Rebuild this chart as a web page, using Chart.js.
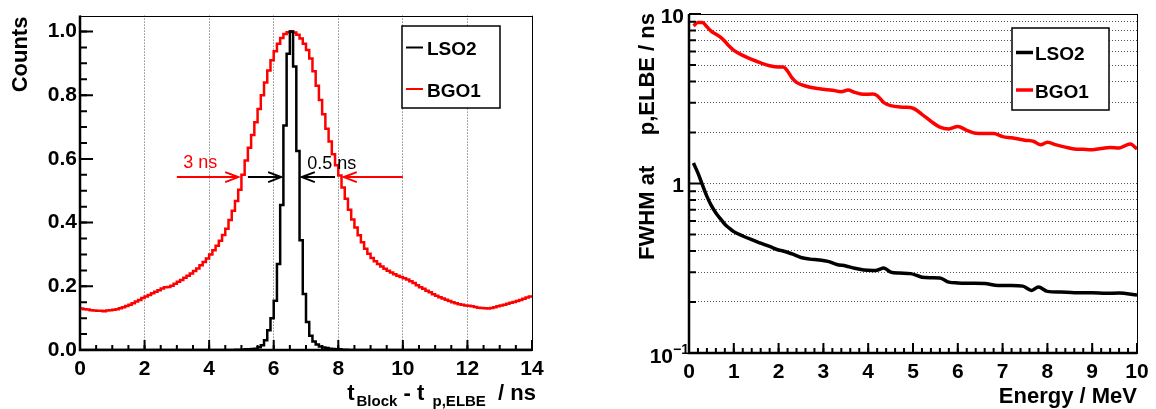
<!DOCTYPE html>
<html>
<head>
<meta charset="utf-8">
<script src="https://cdn.jsdelivr.net/npm/chart.js@4.4.1/dist/chart.umd.min.js"></script>
<style>
  html, body { margin: 0; padding: 0; background: #fff; }
  #wrap { position: relative; width: 1156px; height: 409px; }
  canvas { position: absolute; top: 0; }
  #timing { left: 0; }
  #fwhm { left: 578px; }
</style>
</head>
<body>
<div id="wrap">
  <canvas id="timing" width="578" height="409"></canvas>
  <canvas id="fwhm" width="578" height="409"></canvas>
</div>
<script>
// ---- left panel: timing histograms, 0.1 ns bins from 0 to 14 ns
const binWidth = 0.1;

const lsoCounts = [
  0, 0, 0, 0, 0, 0, 0, 0, 0, 0,
  0, 0, 0, 0, 0, 0, 0, 0, 0, 0,
  0, 0, 0, 0, 0, 0, 0, 0, 0, 0,
  0, 0, 0, 0, 0, 0, 0, 0, 0, 0,
  0, 0, 0, 0, 0, 0, 0, 0, 0.001, 0.001,
  0.001, 0.002, 0.002, 0.003, 0.004, 0.009, 0.015, 0.031, 0.062, 0.100,
  0.155, 0.270, 0.455, 0.705, 0.930, 1.000, 0.890, 0.625, 0.345, 0.176,
  0.088, 0.045, 0.027, 0.017, 0.011, 0.008, 0.006, 0.004, 0.003, 0.002,
  0.002, 0.001, 0.001, 0, 0, 0, 0, 0, 0, 0,
  0, 0, 0, 0, 0, 0, 0, 0, 0, 0,
  0, 0, 0, 0, 0, 0, 0, 0, 0, 0,
  0, 0, 0, 0, 0, 0, 0, 0, 0, 0,
  0, 0, 0, 0, 0, 0, 0, 0, 0, 0,
  0, 0, 0, 0, 0, 0, 0, 0, 0, 0
];

const bgoCounts = [
  0.130, 0.128, 0.127, 0.125, 0.124, 0.123, 0.123, 0.122, 0.124, 0.125,
  0.126, 0.128, 0.131, 0.134, 0.138, 0.142, 0.147, 0.152, 0.157, 0.163,
  0.168, 0.173, 0.178, 0.183, 0.188, 0.193, 0.197, 0.198, 0.202, 0.208,
  0.214, 0.220, 0.227, 0.233, 0.240, 0.248, 0.256, 0.266, 0.276, 0.287,
  0.300, 0.313, 0.327, 0.343, 0.361, 0.381, 0.408, 0.437, 0.468, 0.503,
  0.550, 0.595, 0.635, 0.675, 0.715, 0.757, 0.800, 0.840, 0.878, 0.910,
  0.938, 0.962, 0.980, 0.992, 0.998, 1.000, 0.997, 0.990, 0.978, 0.962,
  0.942, 0.915, 0.875, 0.830, 0.785, 0.740, 0.695, 0.655, 0.615, 0.580,
  0.548, 0.510, 0.475, 0.440, 0.410, 0.385, 0.360, 0.338, 0.318, 0.302,
  0.289, 0.279, 0.270, 0.262, 0.255, 0.249, 0.243, 0.238, 0.233, 0.229,
  0.225, 0.221, 0.216, 0.210, 0.203, 0.197, 0.192, 0.186, 0.181, 0.175,
  0.170, 0.166, 0.162, 0.158, 0.154, 0.150, 0.147, 0.144, 0.142, 0.140,
  0.139, 0.137, 0.135, 0.133, 0.132, 0.131, 0.130, 0.132, 0.134, 0.137,
  0.140, 0.142, 0.145, 0.148, 0.151, 0.154, 0.157, 0.161, 0.165, 0.168
];

const timeTicks = [0, 2, 4, 6, 8, 10, 12, 14];
const countTicks = [0, 0.2, 0.4, 0.6, 0.8, 1.0];

// FWHM markers drawn on the left panel (data units)
const fwhmArrows = [
  { from: [3.0, 0.543], to: [4.9, 0.543], color: "#ff0000" },
  { from: [5.2, 0.543], to: [6.23, 0.543], color: "#000000" },
  { from: [7.9, 0.543], to: [6.87, 0.543], color: "#000000" },
  { from: [10.0, 0.543], to: [8.17, 0.543], color: "#ff0000" }
];
const fwhmNotes = [
  { text: "3 ns", at: [3.2, 0.571], color: "#ff0000" },
  { text: "0.5 ns", at: [7.04, 0.568], color: "#000000" }
];

// ---- right panel: FWHM vs energy
const lsoEnergy = [0.1, 0.2, 0.3, 0.4, 0.5, 0.6, 0.7, 0.8, 0.9, 1.0, 1.2, 1.4, 1.6, 1.8, 2.0, 2.1, 2.3, 2.5, 2.7, 2.9,
  3.1, 3.3, 3.5, 3.7, 3.9, 4.1, 4.2, 4.35, 4.5, 4.7, 4.95, 5.2, 5.4, 5.6, 5.8, 6.0, 6.3, 6.6, 6.9, 7.2,
  7.45, 7.65, 7.8, 8.0, 8.3, 8.6, 9.0, 9.3, 9.6, 10.0];
const lsoFwhm = [1.32, 1.15, 0.98, 0.84, 0.74, 0.67, 0.62, 0.575, 0.545, 0.52, 0.49, 0.466, 0.445, 0.425, 0.405, 0.40, 0.384, 0.366, 0.358, 0.354,
  0.347, 0.333, 0.326, 0.316, 0.309, 0.307, 0.308, 0.317, 0.300, 0.296, 0.294, 0.280, 0.278, 0.277, 0.262, 0.259, 0.258, 0.257, 0.250, 0.250,
  0.248, 0.234, 0.245, 0.231, 0.229, 0.227, 0.227, 0.225, 0.226, 0.220];

const bgoEnergy = [0.1, 0.2, 0.3, 0.4, 0.5, 0.6, 0.7, 0.8, 0.9, 1.0, 1.2, 1.4, 1.6, 1.8, 2.0, 2.1, 2.2, 2.3, 2.4, 2.6,
  2.8, 3.0, 3.2, 3.4, 3.55, 3.7, 3.9, 4.1, 4.2, 4.35, 4.5, 4.8, 5.0, 5.2, 5.4, 5.6, 5.8, 6.0, 6.2, 6.4,
  6.6, 6.8, 7.0, 7.2, 7.5, 7.7, 7.85, 8.0, 8.2, 8.4, 8.6, 8.8, 9.0, 9.2, 9.4, 9.6, 9.75, 9.85, 10.0];
const bgoFwhm = [8.5, 8.9, 8.9, 8.4, 7.9, 7.6, 7.3, 6.9, 6.45, 6.1, 5.7, 5.4, 5.15, 4.95, 4.86, 4.86, 4.6, 4.2, 3.95, 3.76,
  3.66, 3.6, 3.55, 3.48, 3.56, 3.45, 3.36, 3.37, 3.3, 3.0, 2.88, 2.82, 2.78, 2.56, 2.33, 2.15, 2.1, 2.17, 2.06, 1.98,
  1.97, 1.97, 1.89, 1.86, 1.8, 1.77, 1.69, 1.75, 1.69, 1.64, 1.6, 1.59, 1.58, 1.61, 1.63, 1.62, 1.68, 1.71, 1.6];

const energyTicks = [0, 1, 2, 3, 4, 5, 6, 7, 8, 9, 10];
const fwhmGrid = [0.1, 0.2, 0.3, 0.4, 0.5, 0.6, 0.7, 0.8, 0.9, 1, 2, 3, 4, 5, 6, 7, 8, 9, 10];
const fwhmMajor = [0.1, 1, 10];

const FONT = "'Liberation Sans', Arial, Helvetica, sans-serif";
Chart.defaults.color = "#000";

// histogram bins -> points at left bin edges, plus closing point at the last edge
function toSteps(counts) {
  const pts = counts.map((c, i) => ({ x: i * binWidth, y: c }));
  pts.push({ x: counts.length * binWidth, y: counts[counts.length - 1] });
  return pts;
}

function frame(ctx, a) {
  ctx.save();
  ctx.strokeStyle = "#000";
  ctx.lineWidth = 1;
  ctx.strokeRect(Math.round(a.left) + 0.5, Math.round(a.top) + 0.5, Math.round(a.right - a.left), Math.round(a.bottom - a.top));
  ctx.lineWidth = 2.5;
  ctx.beginPath();
  ctx.moveTo(a.left, a.top);
  ctx.lineTo(a.left, a.bottom);
  ctx.lineTo(a.right, a.bottom);
  ctx.stroke();
  ctx.restore();
}

function tickMarks(ctx, scale, values, len, axis, a) {
  ctx.save();
  ctx.strokeStyle = "#000";
  ctx.lineWidth = 2;
  ctx.beginPath();
  values.forEach(v => {
    const p = scale.getPixelForValue(v);
    if (axis === "x") { ctx.moveTo(p, a.bottom); ctx.lineTo(p, a.bottom - len); }
    else { ctx.moveTo(a.left, p); ctx.lineTo(a.left + len, p); }
  });
  ctx.stroke();
  ctx.restore();
}

function legendBox(ctx, box, entries, lw) {
  ctx.save();
  ctx.fillStyle = "#fff";
  ctx.fillRect(box.x, box.y, box.w, box.h);
  ctx.strokeStyle = "#000";
  ctx.lineWidth = 1.5;
  ctx.strokeRect(box.x, box.y, box.w, box.h);
  ctx.font = "bold 19px " + FONT;
  ctx.textAlign = "left";
  ctx.textBaseline = "alphabetic";
  entries.forEach(e => {
    ctx.strokeStyle = e.color;
    ctx.lineWidth = lw;
    ctx.beginPath();
    ctx.moveTo(box.x + 4, e.y);
    ctx.lineTo(box.x + box.lineEnd, e.y);
    ctx.stroke();
    ctx.fillStyle = "#000";
    ctx.fillText(e.text, box.x + box.textX, e.y + 7.5);
  });
  ctx.restore();
}

function arrow(ctx, x1, y1, x2, y2, color) {
  const dir = Math.sign(x2 - x1);
  ctx.save();
  ctx.strokeStyle = color;
  ctx.lineWidth = 2;
  ctx.beginPath();
  ctx.moveTo(x1, y1);
  ctx.lineTo(x2, y2);
  ctx.moveTo(x2 - dir * 13, y2 - 5);
  ctx.lineTo(x2, y2);
  ctx.lineTo(x2 - dir * 13, y2 + 5);
  ctx.stroke();
  ctx.restore();
}

const timingDecor = {
  id: "timingDecor",
  afterDraw(chart) {
    const ctx = chart.ctx, a = chart.chartArea;
    const xs = chart.scales.x, ys = chart.scales.y;
    frame(ctx, a);

    const xMinor = [], yMinor = [];
    for (let t = 0; t <= 14.001; t += 0.5) xMinor.push(t);
    for (let c = 0; c <= 1.05; c += 0.05) yMinor.push(c);
    tickMarks(ctx, xs, xMinor, 5, "x", a);
    tickMarks(ctx, xs, timeTicks, 10, "x", a);
    tickMarks(ctx, ys, yMinor, 7, "y", a);
    tickMarks(ctx, ys, countTicks, 13, "y", a);

    fwhmArrows.forEach(ar => {
      arrow(ctx, xs.getPixelForValue(ar.from[0]), ys.getPixelForValue(ar.from[1]),
        xs.getPixelForValue(ar.to[0]), ys.getPixelForValue(ar.to[1]), ar.color);
    });
    ctx.save();
    ctx.font = "18px " + FONT;
    ctx.textAlign = "left";
    ctx.textBaseline = "alphabetic";
    fwhmNotes.forEach(n => {
      ctx.fillStyle = n.color;
      ctx.fillText(n.text, xs.getPixelForValue(n.at[0]), ys.getPixelForValue(n.at[1]));
    });
    ctx.restore();

    legendBox(ctx, { x: 402, y: 26, w: 98, h: 82, lineEnd: 21, textX: 25 }, [
      { text: "LSO2", color: "#000", y: 47.5 },
      { text: "BGO1", color: "#ff0000", y: 89 }
    ], 2);

    // axis titles
    ctx.save();
    ctx.fillStyle = "#000";
    ctx.font = "bold 22px " + FONT;
    ctx.textBaseline = "alphabetic";
    ctx.translate(27, a.top + 1);
    ctx.rotate(-Math.PI / 2);
    ctx.textAlign = "right";
    ctx.fillText("Counts", 0, 0);
    ctx.restore();

    const main = "bold 22px " + FONT, sub = "bold 15px " + FONT;
    const parts = [
      { t: "t", f: main, dy: 0 }, { t: "Block", f: sub, dy: 6 },
      { t: " - t", f: main, dy: 0 }, { t: "  p,ELBE", f: sub, dy: 6 },
      { t: "  / ns", f: main, dy: 0 }
    ];
    ctx.save();
    ctx.fillStyle = "#000";
    ctx.textAlign = "left";
    let total = 0;
    parts.forEach(p => { ctx.font = p.f; p.w = ctx.measureText(p.t).width; total += p.w; });
    let x = a.right + 2 - total;
    parts.forEach(p => { ctx.font = p.f; ctx.fillText(p.t, x, 400 + p.dy); x += p.w + (p.t === "t" ? 2 : 0); });
    ctx.restore();
  }
};

const fwhmDecor = {
  id: "fwhmDecor",
  afterDraw(chart) {
    const ctx = chart.ctx, a = chart.chartArea;
    const xs = chart.scales.x, ys = chart.scales.y;
    frame(ctx, a);

    const xMinor = [];
    for (let e = 0; e <= 10.001; e += 0.2) xMinor.push(e);
    tickMarks(ctx, xs, xMinor, 5, "x", a);
    tickMarks(ctx, xs, energyTicks, 10, "x", a);
    tickMarks(ctx, ys, fwhmGrid.filter(v => !fwhmMajor.includes(v)), 7, "y", a);
    tickMarks(ctx, ys, fwhmMajor, 12, "y", a);

    // log axis labels
    ctx.save();
    ctx.fillStyle = "#000";
    ctx.textBaseline = "middle";
    ctx.textAlign = "right";
    ctx.font = "bold 21px " + FONT;
    ctx.fillText("10", a.left - 5, ys.getPixelForValue(10) + 3);
    ctx.fillText("1", a.left - 5, ys.getPixelForValue(1) + 3);
    const yb = ys.getPixelForValue(0.1);
    ctx.fillText("10", a.left - 16, yb + 4);
    ctx.font = "bold 14px " + FONT;
    ctx.textAlign = "left";
    ctx.fillText("\u22121", a.left - 16, yb - 3);
    ctx.restore();

    legendBox(ctx, { x: 434, y: 28, w: 97, h: 82, lineEnd: 21, textX: 23 }, [
      { text: "LSO2", color: "#000", y: 52.5 },
      { text: "BGO1", color: "#ff0000", y: 90 }
    ], 3.5);

    ctx.save();
    ctx.fillStyle = "#000";
    ctx.font = "bold 22px " + FONT;
    ctx.textBaseline = "alphabetic";
    ctx.textAlign = "right";
    ctx.fillText("Energy / MeV", a.right, 403);
    ctx.translate(76, a.top - 1);
    ctx.rotate(-Math.PI / 2);
    ctx.textAlign = "right";
    ctx.fillText("FWHM at     p,ELBE / ns", 0, 0);
    ctx.restore();
  }
};

const tickFont = { family: FONT, size: 21, weight: "bold" };

new Chart(document.getElementById("timing"), {
  type: "line",
  data: {
    datasets: [
      { label: "LSO2", data: toSteps(lsoCounts), borderColor: "#000", borderWidth: 2.5, stepped: true, pointRadius: 0, fill: false },
      { label: "BGO1", data: toSteps(bgoCounts), borderColor: "#ff0000", borderWidth: 2.5, stepped: true, pointRadius: 0, fill: false }
    ]
  },
  options: {
    responsive: false,
    animation: false,
    devicePixelRatio: 1,
    layout: { padding: { left: 0, top: 12, right: 46, bottom: 0 } },
    plugins: { legend: { display: false }, tooltip: { enabled: false } },
    scales: {
      x: {
        type: "linear", min: 0, max: 14,
        afterBuildTicks: s => { s.ticks = timeTicks.map(v => ({ value: v })); },
        afterFit: s => { s.height = 59; },
        ticks: { font: tickFont, color: "#000", padding: 7, maxRotation: 0, autoSkip: false, callback: v => String(v) },
        grid: { color: "#555", lineWidth: 1, drawTicks: false },
        border: { display: false, dash: [1, 2] }
      },
      y: {
        type: "linear", min: 0, max: 1.05,
        afterBuildTicks: s => { s.ticks = countTicks.map(v => ({ value: v })); },
        afterFit: s => { s.width = 80; },
        ticks: { font: tickFont, color: "#000", padding: 3, autoSkip: false, callback: v => v.toFixed(1) },
        grid: { display: false, drawTicks: false },
        border: { display: false }
      }
    }
  },
  plugins: [timingDecor]
});

new Chart(document.getElementById("fwhm"), {
  type: "line",
  data: {
    datasets: [
      { label: "LSO2", data: lsoEnergy.map((e, i) => ({ x: e, y: lsoFwhm[i] })), borderColor: "#000", borderWidth: 3.5,
        cubicInterpolationMode: "monotone", pointRadius: 0, fill: false },
      { label: "BGO1", data: bgoEnergy.map((e, i) => ({ x: e, y: bgoFwhm[i] })), borderColor: "#ff0000", borderWidth: 3.5,
        cubicInterpolationMode: "monotone", pointRadius: 0, fill: false }
    ]
  },
  options: {
    responsive: false,
    animation: false,
    devicePixelRatio: 1,
    layout: { padding: { left: 0, top: 14, right: 19, bottom: 0 } },
    plugins: { legend: { display: false }, tooltip: { enabled: false } },
    scales: {
      x: {
        type: "linear", min: 0, max: 10,
        afterBuildTicks: s => { s.ticks = energyTicks.map(v => ({ value: v })); },
        afterFit: s => { s.height = 56; },
        ticks: { font: tickFont, color: "#000", padding: 7, maxRotation: 0, autoSkip: false, callback: v => String(v) },
        grid: { display: false, drawTicks: false },
        border: { display: false }
      },
      y: {
        type: "logarithmic", min: 0.1, max: 10,
        afterBuildTicks: s => { s.ticks = fwhmGrid.map(v => ({ value: v })); },
        afterFit: s => { s.width = 111; },
        ticks: { display: false, autoSkip: false },
        grid: { color: "#555", lineWidth: 1, drawTicks: false },
        border: { display: false, dash: [1, 2] }
      }
    }
  },
  plugins: [fwhmDecor]
});
</script>
</body>
</html>
